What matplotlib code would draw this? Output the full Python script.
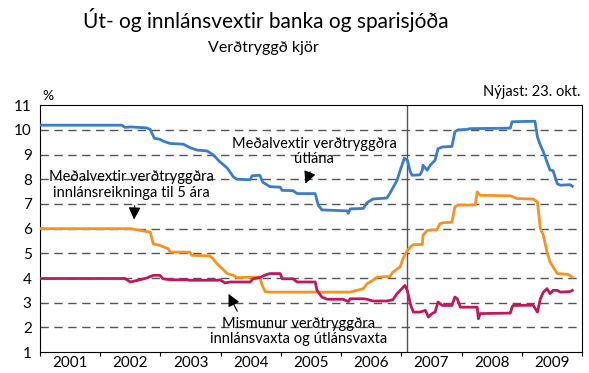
import matplotlib
matplotlib.use("Agg")
import matplotlib.pyplot as plt
import numpy as np

plt.rcParams['font.family'] = ['Lato', 'DejaVu Sans']

# Meðalvextir verðtryggðra útlána
utlan_t = [2001.00, 2002.36, 2002.41, 2002.50, 2002.77, 2002.83, 2002.86, 2002.90, 2002.99, 2003.04,
           2003.16, 2003.38, 2003.49, 2003.61, 2003.77, 2003.87, 2003.91, 2003.99, 2004.04, 2004.11,
           2004.21, 2004.27, 2004.49, 2004.52, 2004.65, 2004.70, 2004.82, 2004.99, 2005.02, 2005.20,
           2005.27, 2005.57, 2005.62, 2005.68, 2006.10, 2006.12, 2006.15, 2006.37, 2006.43, 2006.53,
           2006.76, 2006.81, 2006.93, 2006.98, 2007.05, 2007.10, 2007.15, 2007.18, 2007.31, 2007.35,
           2007.36, 2007.43, 2007.48, 2007.56, 2007.61, 2007.69, 2007.84, 2007.89, 2007.94, 2008.09,
           2008.14, 2008.81, 2008.84, 2009.22, 2009.26, 2009.31, 2009.36, 2009.42, 2009.47, 2009.52,
           2009.59, 2009.64, 2009.80, 2009.84]
utlan_v = [10.19, 10.19, 10.10, 10.12, 10.08, 10.02, 9.85, 9.66, 9.62, 9.55,
           9.45, 9.42, 9.28, 9.18, 9.15, 9.00, 8.90, 8.70, 8.60, 8.45,
           8.10, 8.00, 7.98, 8.14, 8.16, 7.88, 7.70, 7.68, 7.55, 7.54,
           7.42, 7.42, 6.95, 6.76, 6.72, 6.62, 6.80, 6.82, 7.05, 7.20,
           7.24, 7.43, 7.96, 8.35, 8.85, 8.77, 8.30, 8.16, 8.18, 8.37,
           8.57, 8.37, 8.57, 8.77, 9.24, 9.31, 9.33, 9.92, 10.00, 10.02,
           10.05, 10.07, 10.33, 10.35, 9.72, 9.38, 9.11, 8.70, 8.37, 8.35,
           7.82, 7.76, 7.78, 7.72]

# Meðalvextir verðtryggðra innlánsreikninga til 5 ára
innlan_t = [2001.00, 2002.50, 2002.66, 2002.83, 2002.88, 2002.99, 2003.13, 2003.16, 2003.49, 2003.52,
            2003.82, 2003.87, 2003.94, 2004.11, 2004.21, 2004.27, 2004.65, 2004.69, 2004.74, 2004.82,
            2006.15, 2006.37, 2006.43, 2006.53, 2006.60, 2006.81, 2006.86, 2006.98, 2007.03, 2007.10,
            2007.15, 2007.20, 2007.35, 2007.36, 2007.43, 2007.59, 2007.64, 2007.69, 2007.84, 2007.89,
            2007.94, 2008.23, 2008.26, 2008.31, 2008.81, 2008.92, 2009.19, 2009.26, 2009.31, 2009.36,
            2009.42, 2009.47, 2009.59, 2009.77, 2009.84]
innlan_v = [6.00, 6.00, 5.93, 5.86, 5.39, 5.32, 5.19, 5.05, 5.05, 4.92,
            4.90, 4.79, 4.58, 4.18, 4.11, 4.02, 4.04, 3.70, 3.45, 3.43,
            3.43, 3.57, 3.77, 3.91, 4.04, 4.06, 4.24, 4.45, 4.79, 5.12,
            5.26, 5.35, 5.36, 5.73, 5.93, 5.95, 6.20, 6.24, 6.26, 6.88,
            6.95, 6.96, 7.49, 7.35, 7.33, 7.22, 7.20, 7.08, 6.00, 5.73,
            5.05, 4.65, 4.18, 4.15, 4.04]

# Mismunur verðtryggðra innlánsvaxta og útlánsvaxta
mism_t = [2001.00, 2002.41, 2002.50, 2002.66, 2002.77, 2002.88, 2002.99, 2003.04, 2003.16, 2003.44,
          2003.49, 2003.94, 2003.99, 2004.07, 2004.16, 2004.49, 2004.54, 2004.65, 2004.77, 2004.82,
          2004.99, 2005.02, 2005.20, 2005.27, 2005.57, 2005.60, 2005.68, 2005.77, 2006.03, 2006.12,
          2006.15, 2006.37, 2006.43, 2006.53, 2006.76, 2006.86, 2006.93, 2007.01, 2007.06, 2007.10,
          2007.15, 2007.20, 2007.31, 2007.40, 2007.45, 2007.51, 2007.56, 2007.61, 2007.68, 2007.84,
          2007.89, 2007.93, 2007.98, 2008.26, 2008.28, 2008.31, 2008.81, 2008.84, 2008.86, 2009.19,
          2009.26, 2009.31, 2009.36, 2009.42, 2009.47, 2009.52, 2009.59, 2009.64, 2009.80, 2009.84]
mism_v = [3.98, 3.98, 3.84, 3.93, 4.00, 4.11, 4.11, 3.97, 3.93, 3.93,
          3.91, 3.91, 3.93, 3.80, 3.84, 3.84, 3.97, 4.02, 4.15, 4.18,
          4.18, 3.97, 3.97, 3.84, 3.84, 3.50, 3.23, 3.14, 3.14, 3.05,
          3.16, 3.16, 3.14, 3.07, 3.07, 3.12, 3.37, 3.57, 3.70, 3.50,
          2.95, 2.62, 2.62, 2.69, 2.42, 2.56, 2.62, 3.03, 2.89, 2.89,
          3.23, 3.16, 2.82, 2.82, 2.35, 2.56, 2.58, 2.82, 2.89, 2.90,
          2.62, 3.16, 3.43, 3.57, 3.37, 3.50, 3.50, 3.43, 3.45, 3.50]

years = [2001, 2002, 2003, 2004, 2005, 2006, 2007, 2008, 2009]
skil = 2007.10  # brot í röðinni

fig = plt.figure(figsize=(5.89, 3.73), dpi=100)
ax = fig.add_axes([0.068, 0.056, 0.920, 0.662])

for v in range(2, 11):
    ax.axhline(v, color="#555555", lw=1.0, dashes=(6, 4), zorder=1)
ax.axvline(skil, color="#555555", lw=1.0, zorder=2)

ax.plot(utlan_t, utlan_v, color="#3a7dc9", lw=2.0, zorder=3)
ax.plot(innlan_t, innlan_v, color="#f7931e", lw=2.0, zorder=3)
ax.plot(mism_t, mism_v, color="#c2185b", lw=2.0, zorder=4)

ax.set_xlim(2001, 2010)
ax.set_ylim(1, 11)
ax.set_xticks(np.arange(2001, 2011))
ax.set_xticklabels([])
ax.set_xticks([y + 0.5 for y in years], minor=True)
ax.set_xticklabels([str(y) for y in years], minor=True, fontsize=11)
ax.tick_params(axis="x", which="major", direction="out", length=3, width=0.8)
ax.tick_params(axis="x", which="minor", length=0, pad=3)
ax.set_yticks(range(1, 12))
ax.tick_params(axis="y", length=0, labelsize=11, pad=6)
for s in ax.spines.values():
    s.set_linewidth(0.8)

arw = dict(arrowstyle="-|>,head_width=0.35,head_length=0.7", color="black", lw=0.8)
ax.annotate("Meðalvextir verðtryggðra\nútlána", xy=(2005.39, 7.72), xytext=(2005.55, 9.12),
            ha="center", va="center", fontsize=10.5, linespacing=1.15,
            arrowprops=dict(arw, relpos=(0.49, 0.0)))
ax.annotate("Meðalvextir verðtryggðra\ninnlánsreikninga til 5 ára", xy=(2002.56, 6.26),
            xytext=(2002.52, 7.76), ha="center", va="center", fontsize=10.5, linespacing=1.15,
            arrowprops=dict(arw, relpos=(0.52, 0.0)))
ax.annotate("Mismunur verðtryggðra\ninnlánsvaxta og útlánsvaxta", xy=(2004.11, 3.46),
            xytext=(2005.29, 1.84), ha="center", va="center", fontsize=10.5, linespacing=1.15,
            arrowprops=dict(arw, relpos=(0.17, 1.0)))

fig.text(0.452, 0.946, "Út- og innlánsvextir banka og sparisjóða", ha="center", va="center",
         fontsize=15)
fig.text(0.447, 0.871, "Verðtryggð kjör", ha="center", va="center", fontsize=11.5)
fig.text(0.082, 0.743, "%", ha="center", va="center", fontsize=10)
fig.text(0.985, 0.753, "Nýjast: 23. okt.", ha="right", va="center", fontsize=10.5)

plt.savefig("out.png", dpi=100)
